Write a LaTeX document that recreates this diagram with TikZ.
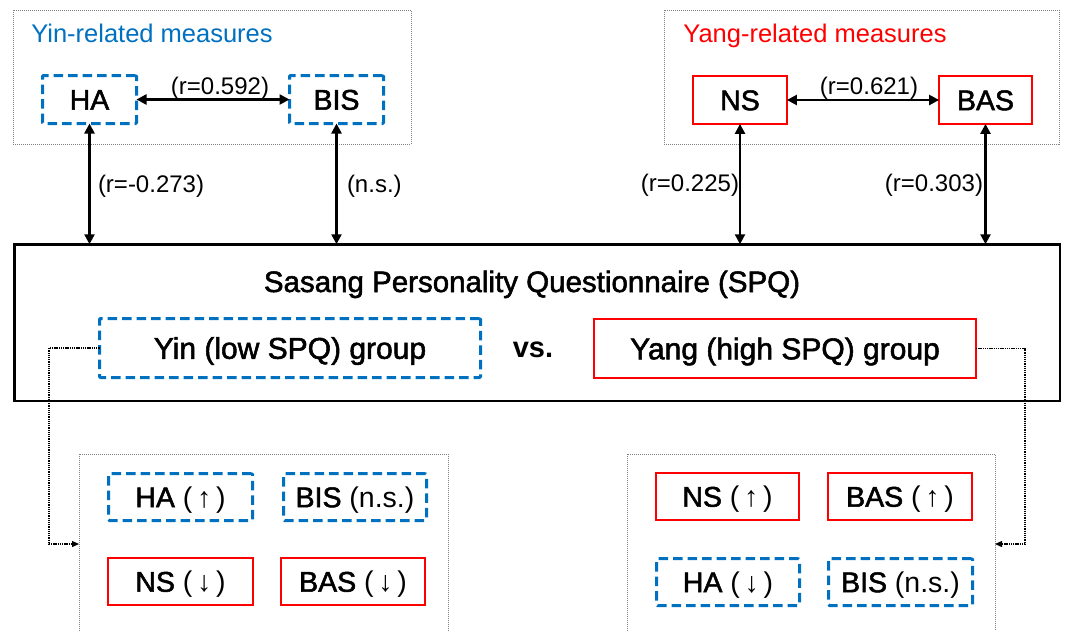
\documentclass[tikz,border=0pt]{standalone}
\usepackage{fontspec}
\setmainfont{Liberation Sans}
\newfontfamily\heavyfont[FakeBold=1.8]{Liberation Sans}
\usetikzlibrary{arrows.meta,calc}
\definecolor{yinblue}{HTML}{0070C0}
\definecolor{yangred}{HTML}{FF0000}
\definecolor{framegray}{HTML}{808080}
\begin{document}
\begin{tikzpicture}[x=1pt,y=-1pt,
  every node/.style={inner sep=0pt,outer sep=0pt},
  topfont/.style={font=\fontsize{28.5pt}{34pt}\heavyfont,text height=20.4pt,text depth=0pt},
  grpfont/.style={font=\fontsize{30pt}{36pt}\heavyfont,text height=21.5pt,text depth=0pt},
  botfont/.style={font=\fontsize{28.5pt}{34pt}\selectfont,text height=20.4pt,text depth=0pt},
  lblfont/.style={font=\fontsize{24pt}{29pt}\selectfont},
  headfont/.style={font=\fontsize{25.5pt}{30pt}\selectfont},
  yinbox/.style={draw=yinblue,line width=3pt,dash pattern=on 9.5pt off 5pt,rounded corners=1pt},
  yangbox/.style={draw=yangred,line width=2.2pt},
  grayframe/.style={draw=framegray,line width=0.8pt,dash pattern=on 1pt off 1pt},
  biarrow/.style={line width=2.4pt,{Triangle[length=10pt,width=10pt]}-{Triangle[length=10pt,width=10pt]}},
  dotconn/.style={line width=1.3pt,dash pattern=on 1.3pt off 0.9pt,-{Triangle[length=7pt,width=6pt]}},
  mainbox/.style={draw=black,line width=2.5pt}
]
\useasboundingbox (0,0) rectangle (1065,630);
\clip (0,0) rectangle (1065,630);

% top containers
\draw[grayframe] (13,10) rectangle (411,144);
\draw[grayframe] (664,10) rectangle (1059,144);
\node[headfont,text=yinblue,anchor=base] (yinhead) at (152,42) {Yin-related measures};
\node[headfont,text=yangred,anchor=base] (yanghead) at (815,42) {Yang-related measures};

% top measure boxes
\node[yinbox,topfont,minimum width=94pt,minimum height=48pt] (ha) at (89.5,99.5) {HA};
\node[yinbox,topfont,minimum width=94pt,minimum height=48pt] (bis) at (336.5,99.5) {BIS};
\node[yangbox,topfont,minimum width=93.8pt,minimum height=47.8pt] (ns) at (740,100) {NS};
\node[yangbox,topfont,minimum width=92.8pt,minimum height=47.8pt] (bas) at (985.5,100) {BAS};

% main box
\node[mainbox,minimum width=1045.5pt,minimum height=156.5pt] (spq) at (537,322.5) {};
\node[font=\fontsize{29.5pt}{35pt}\heavyfont,anchor=base] (title) at (532,292) {Sasang Personality Questionnaire (SPQ)};
\node[yinbox,grpfont,minimum width=381pt,minimum height=59pt] (yingrp) at (290,348) {Yin (low SPQ) group};
\node[yangbox,grpfont,minimum width=382pt,minimum height=59pt] (yanggrp) at (785,348.5) {Yang (high SPQ) group};
\node[font=\fontsize{29pt}{35pt}\selectfont\bfseries,anchor=base] (vs) at (533,357) {vs.};

% arrows
\draw[biarrow] (ha) -- (bis);
\draw[biarrow] (ns) -- (bas);
\draw[biarrow] (ha.south) -- (ha.south |- spq.north);
\draw[biarrow] (bis.south) -- (bis.south |- spq.north);
\draw[biarrow] (ns.south) -- (ns.south |- spq.north);
\draw[biarrow] (bas.south) -- (bas.south |- spq.north);

% labels
\node[lblfont,anchor=base] (l1) at (220,94) {(r=0.592)};
\node[lblfont,anchor=base] (l4) at (869,94) {(r=0.621)};
\node[lblfont,anchor=base west] (l2) at (98,192) {(r=-0.273)};
\node[lblfont,anchor=base west] (l3) at (347,192) {(n.s.)};
\node[lblfont,anchor=base east] (l5) at (739,191) {(r=0.225)};
\node[lblfont,anchor=base east] (l6) at (983,191) {(r=0.303)};

% bottom containers
\node[grayframe,minimum width=369pt,minimum height=180pt,anchor=north west] (lframe) at (79,454) {};
\node[grayframe,minimum width=368pt,minimum height=180pt,anchor=north west] (rframe) at (627,454) {};

% bottom left boxes
\node[yinbox,botfont,minimum width=144pt,minimum height=47pt] (lha) at (180.5,497) {{\heavyfont HA} (\,↑\,)};
\node[yinbox,botfont,minimum width=143pt,minimum height=47pt] (lbis) at (355,497) {{\heavyfont BIS} (n.s.)};
\node[yangbox,botfont,minimum width=144.8pt,minimum height=46.8pt] (lns) at (180.5,581.5) {{\heavyfont NS} (\,↓\,)};
\node[yangbox,botfont,minimum width=143.8pt,minimum height=46.8pt] (lbas) at (353,581.5) {{\heavyfont BAS} (\,↓\,)};

% bottom right boxes
\node[yangbox,botfont,minimum width=142.8pt,minimum height=46.8pt] (rns) at (727.5,496.5) {{\heavyfont NS} (\,↑\,)};
\node[yangbox,botfont,minimum width=143.8pt,minimum height=46.8pt] (rbas) at (900,496.5) {{\heavyfont BAS} (\,↑\,)};
\node[yinbox,botfont,minimum width=143pt,minimum height=47pt] (rha) at (728,582) {{\heavyfont HA} (\,↓\,)};
\node[yinbox,botfont,minimum width=144pt,minimum height=47pt] (rbis) at (900.5,582) {{\heavyfont BIS} (n.s.)};

% dotted connectors
\draw[dotconn] (yingrp.west) -| ([xshift=-30pt]lframe.west) -- (lframe.west);
\draw[dotconn] (yanggrp.east) -| ([xshift=30pt]rframe.east) -- (rframe.east);
\end{tikzpicture}
\end{document}
